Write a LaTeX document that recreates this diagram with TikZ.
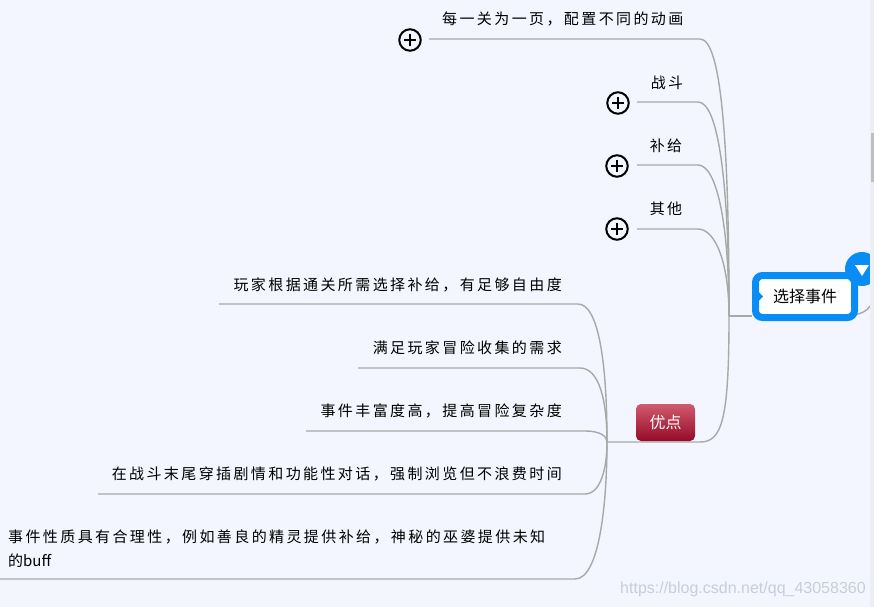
\documentclass[tikz,border=0pt]{standalone}
\usepackage{fontspec}
\newfontfamily\cjk{Noto Sans CJK SC}[LetterSpace=16]
\newfontfamily\cjkplain{Noto Sans CJK SC}
\newfontfamily\wmfont{Liberation Sans}
\usetikzlibrary{calc}
\pgfdeclarelayer{bg}
\pgfsetlayers{bg,main}
\definecolor{bgcol}{RGB}{243,246,254}
\definecolor{linegray}{RGB}{168,168,168}
\definecolor{evblue}{RGB}{10,140,245}
\definecolor{redtop}{RGB}{208,90,110}
\definecolor{redbot}{RGB}{150,10,40}
\definecolor{wmcol}{RGB}{200,205,218}
\definecolor{stripcol}{RGB}{236,238,244}
\begin{document}
\begin{tikzpicture}[x=1pt,y=-1pt,
  conn/.style={draw=linegray, line width=1.4pt},
  txt/.style={inner sep=0pt, font=\cjk\fontsize{15}{18}\selectfont, text=black},
  plusbtn/.style={circle, draw=black, line width=2pt, minimum size=21.5pt, inner sep=0pt,
    path picture={\draw[line width=2.8pt] ($(path picture bounding box.center)+(-6pt,0pt)$) -- ++(12pt,0pt);
                  \draw[line width=2.8pt] ($(path picture bounding box.center)+(0pt,-6pt)$) -- ++(0pt,12pt);}},
]
\useasboundingbox (0,0) rectangle (874,607);

% ---------- nodes ----------
\node[txt, anchor=base west] (t0) at (442,24.5) {每一关为一页，配置不同的动画};
\node[plusbtn] (p0) at (410,40) {};
\node[txt, anchor=base] (t1) at (667,88.5) {战斗};
\node[plusbtn] (p1) at (618,103) {};
\node[txt, anchor=base] (t2) at (666,151.5) {补给};
\node[plusbtn] (p2) at (617,166) {};
\node[txt, anchor=base] (t3) at (666,214.5) {其他};
\node[plusbtn] (p3) at (617,229) {};

\node[draw=evblue, line width=7pt, rounded corners=7pt, fill=white, minimum width=99pt, minimum height=42pt, inner sep=0pt,
      font=\cjkplain\fontsize{16}{18}\selectfont] (ev) at (805,296.5) {选择事件};
\fill[evblue] ($(ev.west)+(0,-11)$) -- ($(ev.west)+(11,0)$) -- ($(ev.west)+(0,11)$) -- cycle;
\node[circle, fill=evblue, minimum size=34pt, inner sep=0pt] (tog) at (862,269) {};
\fill[white] ($(tog.center)+(-7,-4)$) -- ($(tog.center)+(7,-4)$) -- ($(tog.center)+(0,7)$) -- cycle;

\node[rounded corners=5pt, top color=redtop, bottom color=redbot, minimum width=59pt, minimum height=37pt,
      inner sep=0pt, text=white, font=\cjkplain\fontsize{16}{18}\selectfont] (adv) at (665.5,422.5) {优点};

\node[txt, anchor=base east] (a1) at (562,290.5) {玩家根据通关所需选择补给，有足够自由度};
\node[txt, anchor=base east] (a2) at (562,353.5) {满足玩家冒险收集的需求};
\node[txt, anchor=base east] (a3) at (562,416.5) {事件丰富度高，提高冒险复杂度};
\node[txt, anchor=base east] (a4) at (562,479.5) {在战斗末尾穿插剧情和功能性对话，强制浏览但不浪费时间};
\node[txt, anchor=base west] (a5) at (8,542.5) {事件性质具有合理性，例如善良的精灵提供补给，神秘的巫婆提供未知};
\node[txt, anchor=base west] (a5b) at (8,566.5) {的\cjkplain buff};

\node[inner sep=0pt, anchor=base west, text=wmcol, font=\wmfont\fontsize{16}{18}\selectfont] (wmk) at (620,593) {https://blog.csdn.net/qq\_43058360};

% ---------- connectors ----------
\coordinate (j0) at (729,316);
\coordinate (j1) at (607,442);
\coordinate (s0) at (429,39);  \coordinate (e0) at (700,39);
\coordinate (s1) at (637,102); \coordinate (e1) at (698,102);
\coordinate (s2) at (637,165); \coordinate (e2) at (698,165);
\coordinate (s3) at (637,229); \coordinate (e3) at (698,229);
\coordinate (u1) at (219,304); \coordinate (v1) at (578,304);
\coordinate (u2) at (358,368); \coordinate (v2) at (580,368);
\coordinate (u3) at (306,431); \coordinate (v3) at (585,431);
\coordinate (u4) at (98,494);  \coordinate (v4) at (585,494);
\coordinate (u5) at (0,579);   \coordinate (v5) at (575,579);
\coordinate (adv-r) at (700,442);
\coordinate (out) at (876,294);

\begin{pgfonlayer}{bg}
\fill[bgcol] (0,0) rectangle (874,607);
\draw[conn] (s0) -- (e0) .. controls (722,39) and (729,150) .. (j0);
\draw[conn] (s1) -- (e1) .. controls (718,102) and (729,180) .. (j0);
\draw[conn] (s2) -- (e2) .. controls (716,165) and (729,220) .. (j0);
\draw[conn] (s3) -- (e3) .. controls (715,229) and (729,262) .. (j0);
\draw[conn] (j0) -- (ev.west |- j0);
\draw[conn] ($(ev.east)+(-10,18)$) .. controls (866,316) and (872,306) .. (out);
\draw[conn] (j0) .. controls (729,420) and (722,442) .. (adv-r) -- (j1);
\draw[conn] (u1) -- (v1) .. controls (598,304) and (607,360) .. (j1);
\draw[conn] (u2) -- (v2) .. controls (599,368) and (607,400) .. (j1);
\draw[conn] (u3) -- (v3) .. controls (600,431) and (607,436) .. (j1);
\draw[conn] (u4) -- (v4) .. controls (600,494) and (607,470) .. (j1);
\draw[conn] (u5) -- (v5) .. controls (600,579) and (607,500) .. (j1);
\end{pgfonlayer}

% right strip and scrollbar
\fill[stripcol] (870,0) rectangle (874,607);
\fill[black!25] (871,133) rectangle (874,182);
\end{tikzpicture}
\end{document}
